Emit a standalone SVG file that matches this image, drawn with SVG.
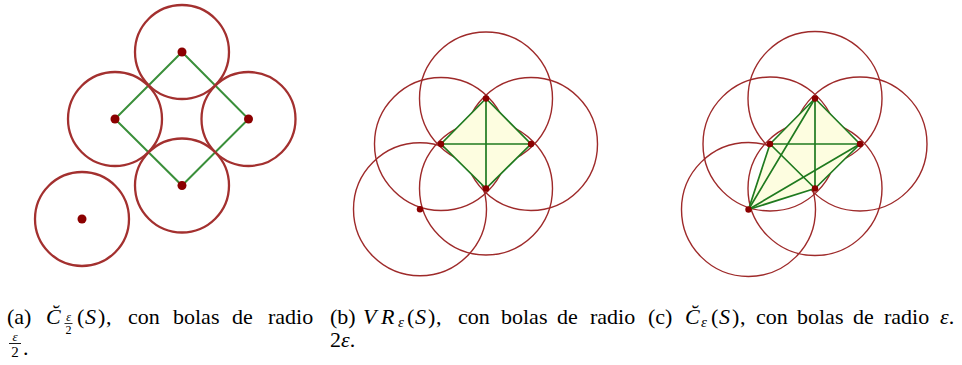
<svg xmlns="http://www.w3.org/2000/svg" width="962" height="365" viewBox="0 0 962 365">
<style>
.ba{fill:none;stroke:#a3302f;stroke-width:2.3}
.bb{fill:none;stroke:#9e2a2a;stroke-width:1.4}
.pa{fill:#8b0000}
.ed{stroke:#3a8f3a;stroke-width:2;fill:none;stroke-linecap:round}
.eb{stroke:#1f7a1f;stroke-width:1.7;fill:none;stroke-linecap:round}
.fi{fill:#fdfde0;stroke:none}
.t{font-size:22px}
.i{font-style:italic}
.s{font-size:15px}
.f{font-size:12px}
</style>
<rect width="962" height="365" fill="#fff"/>
<!-- panel (a) -->
<g id="panel-a">
<g id="a-connectors">
<polyline class="ed" points="182,52 248.5,119 182,185.5 115,119 182,52"/>
</g>
<g id="a-T"><circle class="ba" cx="182" cy="52" r="47"/><circle class="pa" cx="182" cy="52" r="4.5"/></g>
<g id="a-L"><circle class="ba" cx="115" cy="119" r="47"/><circle class="pa" cx="115" cy="119" r="4.5"/></g>
<g id="a-R"><circle class="ba" cx="248.5" cy="119" r="47"/><circle class="pa" cx="248.5" cy="119" r="4.5"/></g>
<g id="a-B"><circle class="ba" cx="182" cy="185.5" r="47"/><circle class="pa" cx="182" cy="185.5" r="4.5"/></g>
<g id="a-I"><circle class="ba" cx="82" cy="219" r="47"/><circle class="pa" cx="82" cy="219" r="4.5"/></g>
</g>
<!-- panel (b) -->
<g id="panel-b">
<g id="b-T"><circle class="bb" cx="486" cy="98.5" r="66.5"/></g>
<g id="b-L"><circle class="bb" cx="441" cy="144" r="66.5"/></g>
<g id="b-R"><circle class="bb" cx="531" cy="144" r="66.5"/></g>
<g id="b-B"><circle class="bb" cx="486" cy="188.5" r="66.5"/></g>
<g id="b-I"><circle class="bb" cx="420" cy="209.3" r="66.5"/></g>
<g id="b-simplices"><polygon class="fi" points="486,98.5 531,144 486,188.5 441,144"/></g>
<g id="b-connectors">
<polyline class="eb" points="486,98.5 531,144 486,188.5 441,144 486,98.5"/>
<line class="eb" x1="486" y1="98.5" x2="486" y2="188.5"/>
<line class="eb" x1="441" y1="144" x2="531" y2="144"/>
</g>
<g id="b-points">
<circle class="pa" cx="486" cy="98.5" r="3.2"/>
<circle class="pa" cx="441" cy="144" r="3.2"/>
<circle class="pa" cx="531" cy="144" r="3.2"/>
<circle class="pa" cx="486" cy="188.5" r="3.2"/>
<circle class="pa" cx="420" cy="209.3" r="3.2"/>
</g>
</g>
<!-- panel (c) -->
<g id="panel-c">
<g id="c-T"><circle class="bb" cx="815" cy="98.5" r="67"/></g>
<g id="c-L"><circle class="bb" cx="770" cy="144" r="67"/></g>
<g id="c-R"><circle class="bb" cx="860" cy="144" r="67"/></g>
<g id="c-B"><circle class="bb" cx="815" cy="188.5" r="67"/></g>
<g id="c-I"><circle class="bb" cx="748.5" cy="209.5" r="67"/></g>
<g id="c-simplices"><polygon class="fi" points="748.5,209.5 770,144 815,98.5 860,144 815,188.5"/></g>
<g id="c-connectors">
<line class="eb" x1="815" y1="98.5" x2="770" y2="144"/>
<line class="eb" x1="815" y1="98.5" x2="860" y2="144"/>
<line class="eb" x1="770" y1="144" x2="860" y2="144"/>
<line class="eb" x1="815" y1="98.5" x2="815" y2="188.5"/>
<line class="eb" x1="770" y1="144" x2="815" y2="188.5"/>
<line class="eb" x1="860" y1="144" x2="815" y2="188.5"/>
<line class="eb" x1="748.5" y1="209.5" x2="770" y2="144"/>
<line class="eb" x1="748.5" y1="209.5" x2="815" y2="98.5"/>
<line class="eb" x1="748.5" y1="209.5" x2="860" y2="144"/>
<line class="eb" x1="748.5" y1="209.5" x2="815" y2="188.5"/>
</g>
<g id="c-points">
<circle class="pa" cx="815" cy="98.5" r="3.2"/>
<circle class="pa" cx="770" cy="144" r="3.2"/>
<circle class="pa" cx="860" cy="144" r="3.2"/>
<circle class="pa" cx="815" cy="188.5" r="3.2"/>
<circle class="pa" cx="748.5" cy="209.5" r="3.2"/>
</g>
</g>
<!-- captions -->
<g id="captions" font-family="'Liberation Serif', 'Times New Roman', serif" fill="#000">
<g id="caption-a">
<text class="t" y="324"><tspan x="7">(a)</tspan><tspan x="46" class="i">C̆</tspan><tspan x="77">(</tspan><tspan x="85" class="i">S</tspan><tspan x="98">)</tspan><tspan x="106">,</tspan><tspan x="128">con</tspan><tspan x="173">bolas</tspan><tspan x="232">de</tspan><tspan x="268">radio</tspan></text>
<text class="f i" x="68.5" y="320.5" text-anchor="middle">ε</text>
<line x1="64.5" y1="323.5" x2="72.5" y2="323.5" stroke="#000" stroke-width="0.8"/>
<text class="f" x="68.5" y="333.5" text-anchor="middle">2</text>
<text class="i" x="15" y="341" font-size="13" text-anchor="middle">ε</text>
<line x1="9" y1="343.5" x2="21" y2="343.5" stroke="#000" stroke-width="0.9"/>
<text x="15" y="357" font-size="15" text-anchor="middle">2</text>
<text class="t" x="23" y="355">.</text>
</g>
<g id="caption-b">
<text class="t" y="324"><tspan x="330">(b)</tspan><tspan x="363" class="i">V</tspan><tspan x="381" class="i">R</tspan><tspan x="398" class="s i" dy="3">ε</tspan><tspan x="407" dy="-3">(</tspan><tspan x="415" class="i">S</tspan><tspan x="428">)</tspan><tspan x="436">,</tspan><tspan x="458">con</tspan><tspan x="501">bolas</tspan><tspan x="557">de</tspan><tspan x="590">radio</tspan></text>
<text class="t" x="330" y="347">2<tspan class="i">ε</tspan>.</text>
</g>
<g id="caption-c">
<text class="t" y="324"><tspan x="648">(c)</tspan><tspan x="685" class="i">C̆</tspan><tspan x="701" class="s i" dy="3">ε</tspan><tspan x="711" dy="-3">(</tspan><tspan x="719" class="i">S</tspan><tspan x="732">)</tspan><tspan x="740">,</tspan><tspan x="756">con</tspan><tspan x="797">bolas</tspan><tspan x="853">de</tspan><tspan x="884">radio</tspan><tspan x="940" class="i">ε</tspan><tspan>.</tspan></text>
</g>
</g>
</svg>
